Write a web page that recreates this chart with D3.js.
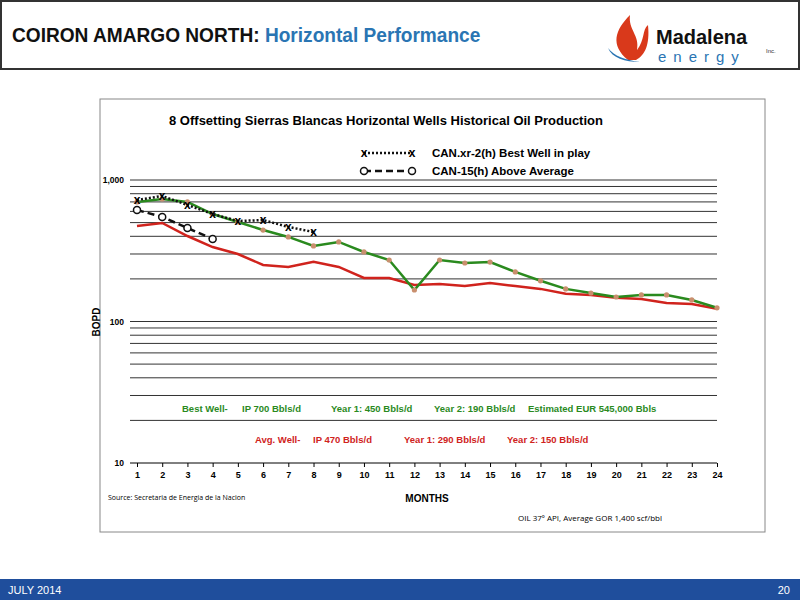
<!DOCTYPE html>
<html><head><meta charset="utf-8">
<script src="https://cdn.jsdelivr.net/npm/d3@7"></script>
<style>body{margin:0;background:#fff;font-family:"Liberation Sans",Arial,sans-serif}</style>
</head><body><svg id="c" width="800" height="600"></svg>
<script>
const months = d3.range(1, 25);
const bestWell = [700,734,700,575,505,443,396,342,365,310,272,167,272,259,263,224,194,170,159,149,154,154,142,125];
const avgWell = [473,497,402,336,300,251,243,264,243,203,203,181,184,178,187,178,170,157,154,147,144,135,133,123];
const canXr2 = [722,771,666,575,513,521,466,429];
const can15 = [614,548,458,383];
const yTicks = [10,100,1000];

const svg = d3.select("#c");
svg.append("rect").attr("x",1).attr("y",1).attr("width",798).attr("height",68).attr("fill","#fff").attr("stroke","#333").attr("stroke-width",2);
const t = svg.append("text").attr("x",12).attr("y",42).attr("font-size",19.5).attr("font-weight","bold").attr("transform","translate(12,0) scale(0.98,1) translate(-12,0)");
t.append("tspan").text("COIRON AMARGO NORTH: ").attr("fill","#111");
t.append("tspan").text("Horizontal Performance").attr("fill","#2a75b3");
svg.append("path").attr("d","M628,60 C610,45 615,30 630,15 C628,30 640,35 637,50 C645,40 642,30 648,25 C650,45 645,55 636,60 Z").attr("fill","#d9391b");
svg.append("path").attr("d","M608,48 C612,58 625,62 640,62 C625,60 614,56 608,48Z").attr("fill","#2a75b3");
svg.append("text").attr("x",656).attr("y",44).attr("font-size",20).attr("font-weight","bold").attr("fill","#111").text("Madalena");
svg.append("text").attr("x",658).attr("y",62).attr("font-size",15).attr("fill","#2a75b3").attr("letter-spacing","7").text("energy");
svg.append("text").attr("x",766).attr("y",53).attr("font-size",6).attr("fill","#333").text("Inc.");
svg.append("rect").attr("x",0).attr("y",579).attr("width",800).attr("height",21).attr("fill","#1f4e9c");
svg.append("text").attr("x",8).attr("y",594).attr("font-size",11).attr("fill","#fff").text("JULY 2014");
svg.append("text").attr("x",790).attr("y",594).attr("font-size",11).attr("fill","#fff").attr("text-anchor","end").text("20");
svg.append("rect").attr("x",100).attr("y",99).attr("width",665).attr("height",433).attr("fill","#fff").attr("stroke","#888");

const x = d3.scaleLinear().domain([1,24]).range([137,717]);
const y = d3.scaleLog().domain([10,1000]).range([463,180]);

const grid = [];
[10,100].forEach(d=>{for(let k=1;k<10;k++) grid.push(d*k);});
grid.push(1000);
svg.append("g").selectAll("line").data(grid.filter(v=>v>10)).join("line")
 .attr("x1",130).attr("x2",717).attr("y1",d=>y(d)).attr("y2",d=>y(d)).attr("stroke","#333").attr("stroke-width",1);

const xa = svg.append("g").attr("transform","translate(0,463)").call(d3.axisBottom(x).tickValues(months).tickFormat(d3.format("d")).tickSize(4));
xa.select(".domain").attr("d","M130,0H717");
xa.selectAll("text").attr("font-size",9).attr("font-weight","bold").attr("dy","0.9em");
const ya = svg.append("g").attr("transform","translate(130,0)").call(d3.axisLeft(y).tickValues(yTicks).tickFormat(d3.format(",")).tickSize(0));
ya.select(".domain").remove();
ya.selectAll("text").attr("font-size",8.5).attr("font-weight","bold").attr("dx","-3");

svg.append("text").attr("transform","translate(100,322) rotate(-90)").attr("text-anchor","middle").attr("font-size",10).attr("font-weight","bold").text("BOPD");
svg.append("text").attr("x",427).attr("y",502).attr("text-anchor","middle").attr("font-size",10).attr("font-weight","bold").text("MONTHS");
svg.append("text").attr("x",386).attr("y",125).attr("text-anchor","middle").attr("font-size",13).attr("font-weight","bold").text("8 Offsetting Sierras Blancas Horizontal Wells Historical Oil Production");
svg.append("text").attr("x",108).attr("y",500).attr("font-size",7).attr("font-family","'Open Sans'").text("Source: Secretaria de Energia de la Nacion");
svg.append("text").attr("x",518).attr("y",521).attr("font-size",8).attr("font-family","'Open Sans'").text("OIL 37º API, Average GOR 1,400 scf/bbl");

const line = d3.line().x((d,i)=>x(months[i])).y(d=>y(d));
svg.append("path").datum(avgWell).attr("d",line).attr("fill","none").attr("stroke","#d0231d").attr("stroke-width",2.5);
svg.append("path").datum(bestWell).attr("d",line).attr("fill","none").attr("stroke","#2a8a1e").attr("stroke-width",2.5);
svg.append("g").selectAll("circle").data(bestWell).join("circle").attr("cx",(d,i)=>x(months[i])).attr("cy",d=>y(d)).attr("r",2.6).attr("fill","#c98f6e");
svg.append("path").datum(canXr2).attr("d",line).attr("fill","none").attr("stroke","#111").attr("stroke-width",2.5).attr("stroke-dasharray","2,2");
svg.append("g").selectAll("text").data(canXr2).join("text").attr("x",(d,i)=>x(months[i])).attr("y",d=>y(d)+4).attr("text-anchor","middle").attr("font-size",12).attr("font-weight","bold").text("x");
svg.append("path").datum(can15).attr("d",line).attr("fill","none").attr("stroke","#111").attr("stroke-width",2.5).attr("stroke-dasharray","7,4");
svg.append("g").selectAll("circle.o").data(can15).join("circle").attr("cx",(d,i)=>x(months[i])).attr("cy",d=>y(d)).attr("r",3.5).attr("fill","#fff").attr("stroke","#111").attr("stroke-width",1.5);

svg.append("line").attr("x1",364).attr("x2",412).attr("y1",153).attr("y2",153).attr("stroke","#111").attr("stroke-width",2.5).attr("stroke-dasharray","2,2");
[364,412].forEach(px=>svg.append("text").attr("x",px).attr("y",157).attr("text-anchor","middle").attr("font-size",12).attr("font-weight","bold").text("x"));
svg.append("text").attr("x",432).attr("y",157).attr("font-size",11.5).attr("font-weight","bold").text("CAN.xr-2(h) Best Well in play");
svg.append("line").attr("x1",364).attr("x2",412).attr("y1",171).attr("y2",171).attr("stroke","#111").attr("stroke-width",2.5).attr("stroke-dasharray","7,4");
[364,412].forEach(px=>svg.append("circle").attr("cx",px).attr("cy",171).attr("r",3.5).attr("fill","#fff").attr("stroke","#111").attr("stroke-width",1.5));
svg.append("text").attr("x",432).attr("y",175).attr("font-size",11.5).attr("font-weight","bold").text("CAN-15(h) Above Average");

const g1 = svg.append("text").attr("y",412).attr("font-size",9.5).attr("font-weight","bold").attr("fill","#2a8a1e");
[[182,"Best Well-"],[242,"IP 700 Bbls/d"],[331,"Year 1: 450 Bbls/d"],[434,"Year 2: 190 Bbls/d"],[528,"Estimated EUR 545,000 Bbls"]].forEach(([px,s])=>g1.append("tspan").attr("x",px).text(s));
const g2 = svg.append("text").attr("y",443).attr("font-size",9.5).attr("font-weight","bold").attr("fill","#d0231d");
[[255,"Avg. Well-"],[313,"IP 470 Bbls/d"],[404,"Year 1: 290 Bbls/d"],[507,"Year 2: 150 Bbls/d"]].forEach(([px,s])=>g2.append("tspan").attr("x",px).text(s));
</script></body></html>
